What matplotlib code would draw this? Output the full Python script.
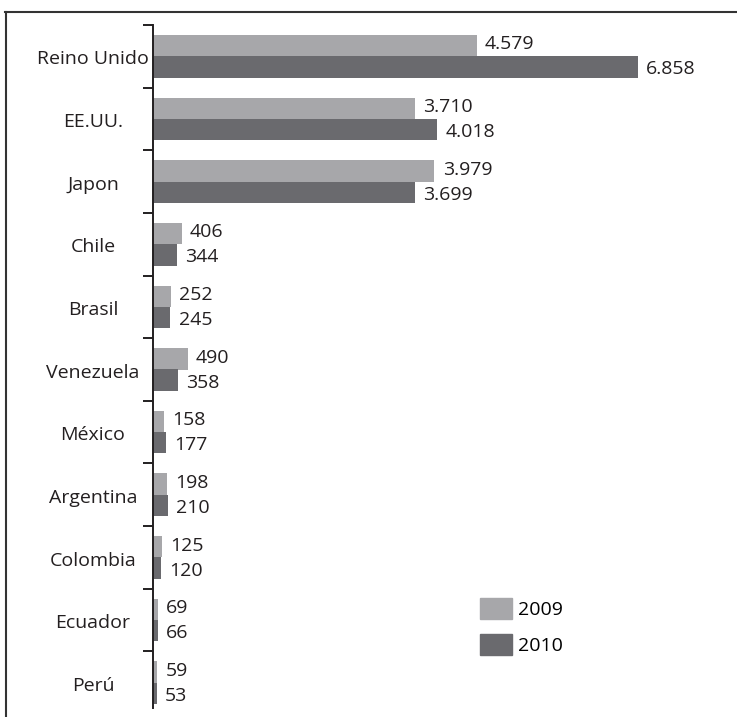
import numpy as np
import matplotlib.pyplot as plt
from matplotlib.lines import Line2D
from matplotlib.patches import Patch

plt.rcParams['font.family'] = ['Open Sans', 'DejaVu Sans']

paises = ["Reino Unido", "EE.UU.", "Japon", "Chile", "Brasil", "Venezuela",
          "México", "Argentina", "Colombia", "Ecuador", "Perú"]
v2009 = [4579, 3710, 3979, 406, 252, 490, 158, 198, 125, 69, 59]
v2010 = [6858, 4018, 3699, 344, 245, 358, 177, 210, 120, 66, 53]
etiq2009 = ["4.579", "3.710", "3.979", "406", "252", "490", "158", "198", "125", "69", "59"]
etiq2010 = ["6.858", "4.018", "3.699", "344", "245", "358", "177", "210", "120", "66", "53"]

c09 = "#a7a7aa"
c10 = "#6a6a6e"
ctext = "#231f20"

W, H = 737, 717
fig = plt.figure(figsize=(W / 100, H / 100), dpi=100)
ax = fig.add_axes([153 / W, 3 / H, 1 - 153 / W, (714 - 25) / H])

y = np.arange(len(paises))
h = 0.34
ax.barh(y - h / 2, v2009, height=h, color=c09, label="2009")
ax.barh(y + h / 2, v2010, height=h, color=c10, label="2010")

xmax = (W - 153) / 485 * 6858
ax.set_xlim(0, xmax)
ax.set_ylim(len(paises) - 0.5, -0.5)

fs = 14
off = xmax * 0.014
for i in range(len(paises)):
    ax.text(v2009[i] + off, y[i] - h / 2 - 0.02, etiq2009[i], va="center", ha="left",
            fontsize=fs, color=ctext)
    ax.text(v2010[i] + off, y[i] + h / 2 + 0.04, etiq2010[i], va="center", ha="left",
            fontsize=fs, color=ctext)

# category labels, centred in the left margin
xc = (93 - 153) / (W - 153)
for i, p in enumerate(paises):
    ax.text(xc, y[i] + 0.05, p, transform=ax.get_yaxis_transform(), ha="center",
            va="center", fontsize=fs, color=ctext)

ax.set_yticks([])
ax.set_yticks(np.arange(-0.5, len(paises) - 1, 1.0), minor=True)
ax.tick_params(axis="y", which="minor", direction="out", length=7, width=1.4,
               color="#231f20", labelleft=False)
ax.set_xticks([])
for s in ["top", "right", "bottom"]:
    ax.spines[s].set_visible(False)
ax.spines["left"].set_linewidth(1.4)
ax.spines["left"].set_color("#231f20")
ax.spines["left"].set_bounds(len(paises) - 0.6, -0.5)

handles = [Patch(color=c09), Patch(color=c10)]
fig.legend(handles, ["2009", "2010"], loc="upper left",
           bbox_to_anchor=(480 / W, 1 - 598 / H), frameon=False, fontsize=fs,
           handlelength=1.65, handleheight=1.25, handletextpad=0.3,
           labelspacing=0.8, borderpad=0, borderaxespad=0)

# outer frame (top and left edges)
fig.add_artist(Line2D([5 / W, 1.0], [1 - 12 / H, 1 - 12 / H], color="#333333", lw=1.5))
fig.add_artist(Line2D([6 / W, 6 / W], [1 - 12 / H, 0], color="#333333", lw=1.5))

fig.savefig("out.png", dpi=100)
